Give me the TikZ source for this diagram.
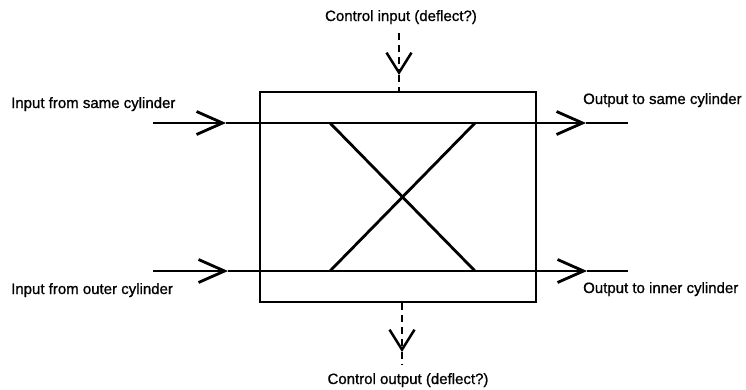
\documentclass[tikz,border=0pt]{standalone}
\usepackage{fontspec}
\setmainfont{Liberation Sans}
\newfontfamily\lblfont[FakeBold=0.9]{Liberation Sans}
\usepackage{tikz}
\usetikzlibrary{arrows.meta, positioning, calc}
\definecolor{mydark}{RGB}{0,0,0}
\tikzset{
  switchbox/.style={rectangle, draw=mydark, line width=2.8pt,
    minimum width=276pt, minimum height=210pt, inner sep=0pt},
  label/.style={font=\lblfont\fontsize{15}{18}\selectfont, inner sep=0pt},
  flow/.style={-{Straight Barb[length=26pt, width=23pt]}, line width=2.8pt, color=mydark},
  line/.style={line width=2.8pt, color=mydark},
  ctlflow/.style={-{Straight Barb[length=20pt, width=25pt]}, line width=2.5pt,
    color=mydark, dash pattern=on 7pt off 5pt},
  ctlline/.style={line width=2.5pt, color=mydark, dash pattern=on 7pt off 5pt}
}
\begin{document}
\begin{tikzpicture}[x=1pt, y=-1pt]
  \useasboundingbox (0,0) rectangle (746,389);

  % Switch box
  \node[switchbox] (box) at (398,197) {};

  % Track ends
  \coordinate (inSame) at (153,123);
  \coordinate (inSameTip) at (226,123);
  \coordinate (outSameTip) at (586,123);
  \coordinate (outSame) at (628,123);
  \coordinate (inOuter) at (153,271);
  \coordinate (inOuterTip) at (228,271);
  \coordinate (outInnerTip) at (587,271);
  \coordinate (outInner) at (628,271);

  % Crossing inside the box
  \coordinate (xTL) at (330,123);
  \coordinate (xTR) at (475,123);
  \coordinate (xBL) at (330,271);
  \coordinate (xBR) at (475,271);

  % Control ends
  \coordinate (ctlIn) at (399,33);
  \coordinate (ctlInTip) at (399,75);
  \coordinate (ctlOutTip) at (402,352);
  \coordinate (ctlOut) at (402,365);

  % Tracks
  \draw[flow] (inSame) -- (inSameTip);
  \draw[flow] (inSameTip) -- (outSameTip);
  \draw[line] (outSameTip) -- (outSame);
  \draw[flow] (inOuter) -- (inOuterTip);
  \draw[flow] (inOuterTip) -- (outInnerTip);
  \draw[line] (outInnerTip) -- (outInner);
  \draw[line] (xTL) -- (xBR);
  \draw[line] (xTR) -- (xBL);

  % Control lines
  \draw[ctlflow] (ctlIn) -- (ctlInTip);
  \draw[ctlline] (ctlInTip) -- (ctlInTip |- box.north);
  \draw[ctlflow] (ctlOutTip |- box.south) -- (ctlOutTip);
  \draw[ctlline] (ctlOutTip) -- (ctlOut);

  % Labels
  \node[label, anchor=base west] (lInSame) at (11,108) {Input from same cylinder};
  \node[label, anchor=base west] (lInOuter) at (11,294) {Input from outer cylinder};
  \node[label, anchor=base west] (lOutSame) at (583,104) {Output to same cylinder};
  \node[label, anchor=base west] (lOutInner) at (583,293) {Output to inner cylinder};
  \node[label, anchor=base] (lCtlIn) at (401,21) {Control input (deflect?)};
  \node[label, anchor=base] (lCtlOut) at (408,384) {Control output (deflect?)};
\end{tikzpicture}
\end{document}
